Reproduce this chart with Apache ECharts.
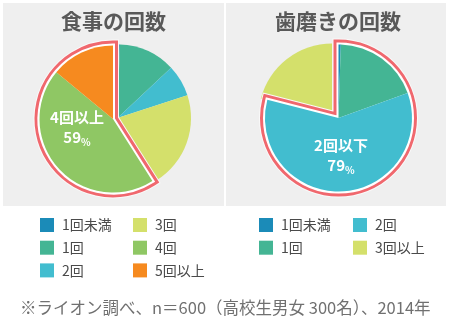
<!DOCTYPE html>
<html>
<head>
<meta charset="utf-8">
<script src="https://cdn.jsdelivr.net/npm/echarts@6/dist/echarts.min.js"></script>
<style>
  html, body { margin: 0; padding: 0; background: #ffffff; }
  #chart { width: 450px; height: 323px; }
</style>
</head>
<body>
<div id="chart"></div>
<script>
// 食事の回数 (meals per day)
const mealNames = ['1回未満', '1回', '2回', '3回', '4回', '5回以上'];
const mealValues = [0.5, 12.5, 7, 21, 45, 14];
const mealGroup = ['4回', '5回以上'];
const mealGroupLabel = '4回以上';
const mealGroupPct = 59;

// 歯磨きの回数 (tooth brushing per day)
const brushNames = ['1回未満', '1回', '2回', '3回以上'];
const brushValues = [0.5, 19, 59.5, 21];
const brushGroup = ['1回未満', '1回', '2回'];
const brushGroupLabel = '2回以下';
const brushGroupPct = 79;

const titles = ['食事の回数', '歯磨きの回数'];
const footnote = '※ライオン調べ、n＝600（高校生男女 300名）、2014年';

const colors = {
  '1回未満': '#1b8bb8',
  '1回': '#44b594',
  '2回': '#42bdcf',
  '3回': '#d4e06b',
  '4回': '#8fc764',
  '5回以上': '#f68a1f',
  '3回以上': '#d4e06b'
};

const FONT = "'Noto Sans CJK JP', 'Noto Sans', sans-serif";
const RED = '#f0686e';
const CLEAR = 'rgba(0,0,0,0)';
const R = 73.5;

// One pie with its highlighted group drawn slightly apart and outlined.
function pieSeries(names, values, group, groupLabel, groupPct, baseCenter, groupCenter, labelShift) {
  const inGroup = names.map(n => group.includes(n));
  const common = {
    type: 'pie', radius: [0, R], startAngle: 90, clockwise: true,
    silent: true, animation: false, minAngle: 0,
    label: { show: false }, labelLine: { show: false },
    emphasis: { disabled: true }
  };
  const slices = (center, keep, z) => Object.assign({}, common, {
    center, z,
    data: names.map((n, i) => ({
      name: n, value: values[i],
      itemStyle: { color: inGroup[i] === keep ? colors[n] : CLEAR, borderWidth: 0 }
    }))
  });
  // group outline data: group item and the remainder, in drawing order
  const groupFirst = inGroup[0];
  const outline = (fill, stroke, width, z) => {
    const g = { name: groupLabel, value: groupPct,
      itemStyle: { color: fill, borderColor: stroke, borderWidth: width, borderJoin: 'miter' } };
    const rest = { name: '', value: 100 - groupPct, itemStyle: { color: CLEAR, borderWidth: 0 } };
    return Object.assign({}, common, { center: groupCenter, z, data: groupFirst ? [g, rest] : [rest, g] });
  };
  const labelSeries = outline(CLEAR, CLEAR, 0, 9);
  labelSeries.data = labelSeries.data.map(d => d.name ? Object.assign({}, d, {
    label: {
      show: true, position: 'center',
      formatter: '{a|' + groupLabel + '}\n{n|' + groupPct + '}{p|%}',
      rich: {
        a: { fontFamily: FONT, fontSize: 15, fontWeight: 'bold', color: '#fff', lineHeight: 20 },
        n: { fontFamily: FONT, fontSize: 15, fontWeight: 'bold', color: '#fff', lineHeight: 20 },
        p: { fontFamily: FONT, fontSize: 10, fontWeight: 'bold', color: '#fff', lineHeight: 20, verticalAlign: 'bottom' }
      }
    }
  }) : d);
  labelSeries.labelLayout = { dx: labelShift[0], dy: labelShift[1] };
  return [
    slices(baseCenter, false, 1),
    outline('#fafafa', '#fafafa', 12, 2),
    outline(RED, RED, 10, 3),
    outline('#ffffff', '#ffffff', 4, 4),
    slices(groupCenter, true, 5),
    labelSeries
  ];
}

function legendColumn(names, left) {
  return {
    left, top: 218, orient: 'vertical', padding: 0,
    itemWidth: 14, itemHeight: 14, itemGap: 8.7, icon: 'rect',
    selectedMode: false,
    itemStyle: { borderWidth: 0 },
    textStyle: { fontFamily: FONT, fontSize: 14, color: '#4a4a4a', lineHeight: 14, padding: [0, 0, 0, 3] },
    data: names.map(n => ({ name: n, itemStyle: { color: colors[n], borderWidth: 0, opacity: 1 } }))
  };
}

const chart = echarts.init(document.getElementById('chart'), null, { renderer: 'canvas' });

chart.setOption({
  animation: false,
  backgroundColor: '#ffffff',
  graphic: [
    { type: 'rect', silent: true, z: -10, shape: { x: 3, y: 3, width: 221, height: 203 }, style: { fill: '#efefef' } },
    { type: 'rect', silent: true, z: -10, shape: { x: 226, y: 3, width: 220, height: 203 }, style: { fill: '#efefef' } }
  ],
  title: [
    { text: titles[0], left: 61, top: 11, padding: 0,
      textStyle: { fontFamily: FONT, fontSize: 21, fontWeight: 'bold', color: '#595959' } },
    { text: titles[1], left: 275, top: 11, padding: 0,
      textStyle: { fontFamily: FONT, fontSize: 21, fontWeight: 'bold', color: '#595959' } },
    { text: footnote, left: 20, top: 299, padding: 0,
      textStyle: { fontFamily: FONT, fontSize: 16.5, fontWeight: 'normal', color: '#707070' } }
  ],
  legend: [
    legendColumn(mealNames.slice(0, 3), 40),
    legendColumn(mealNames.slice(3), 133),
    legendColumn(brushNames.slice(0, 2), 259),
    legendColumn(brushNames.slice(2), 353)
  ],
  series: [].concat(
    pieSeries(mealNames, mealValues, mealGroup, mealGroupLabel, mealGroupPct,
      [117.5, 118], [113, 119], [-36, 8]),
    pieSeries(brushNames, brushValues, brushGroup, brushGroupLabel, brushGroupPct,
      [332, 117], [338.5, 118], [2.5, 37])
  )
});
</script>
</body>
</html>
